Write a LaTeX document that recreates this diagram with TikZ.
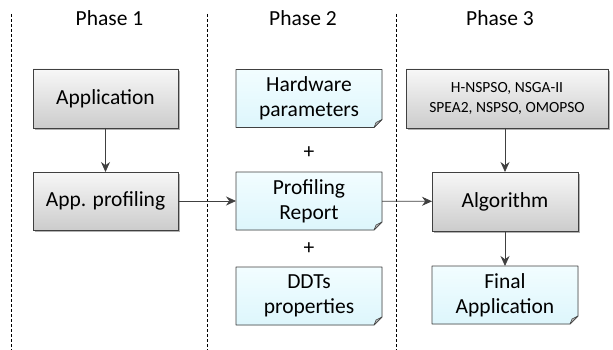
\documentclass[tikz,border=0pt]{standalone}
\usepackage{fontspec}
\setmainfont{Carlito}
\usetikzlibrary{arrows.meta,shadows,backgrounds}
\definecolor{bordc}{HTML}{404040}
\definecolor{arrc}{HTML}{404040}
\definecolor{cyantop}{HTML}{F2FDFF}
\definecolor{cyanbot}{HTML}{DDF6FC}
\tikzset{
  txt/.style={font=\fontsize{21.5}{25}\selectfont, align=center},
  graybox/.style={txt, draw=bordc, line width=0.8pt, top color=gray!6, bottom color=gray!40,
    drop shadow={shadow xshift=2pt, shadow yshift=-2pt, opacity=0.3, fill=black},
    inner sep=0pt, outer sep=0pt},
  notebox/.style={txt, inner sep=0pt, outer sep=0pt, minimum width=146pt, minimum height=58pt},
  conn/.style={draw=arrc, line width=0.8pt, -{Stealth[length=10pt,width=9pt]}},
  divider/.style={draw=black, line width=0.6pt, dash pattern=on 3pt off 2pt},
  phase/.style={font=\fontsize{21.5}{25}\selectfont}
}
\newcommand\notepath[1]{(#1.north west) -- (#1.north east) -- ([yshift=8pt]#1.south east) -- ([xshift=-8pt]#1.south east) -- (#1.south west) -- cycle}
\newcommand\notedraw[1]{%
  \fill[black,opacity=0.3,xshift=2pt,yshift=-2pt] \notepath{#1};
  \shade[top color=cyantop,bottom color=cyanbot] \notepath{#1};
  \draw[bordc,line width=0.8pt,line join=round] \notepath{#1};
  \filldraw[fill=gray!55,draw=bordc,line width=0.5pt,line join=round] ([xshift=-8pt]#1.south east) -- ([yshift=8pt]#1.south east) -- ([xshift=-6pt,yshift=5pt]#1.south east) -- cycle;
}
\begin{document}
\begin{tikzpicture}[x=1pt,y=-1pt]
\useasboundingbox (0,0) rectangle (613,350);
% dividers
\coordinate (d1t) at (11.5,14); \coordinate (d1b) at (11.5,350);
\coordinate (d2t) at (207,14); \coordinate (d2b) at (207,350);
\coordinate (d3t) at (396,14); \coordinate (d3b) at (396,350);
\draw[divider] (d1t) -- (d1b);
\draw[divider] (d2t) -- (d2b);
\draw[divider] (d3t) -- (d3b);
% phase titles
\node[phase] (p1) at (109.5,18) {Phase 1};
\node[phase] (p2) at (303,18) {Phase 2};
\node[phase] (p3) at (500,18) {Phase 3};
% phase 1
\node[graybox, minimum width=145pt, minimum height=59pt] (app) at (105.5,98.5) {Application};
\node[graybox, minimum width=145pt, minimum height=58pt] (prof) at (105.5,201) {App. profiling};
% phase 2
\node[notebox] (hw) at (309,98.5) {Hardware\\parameters};
\node[notebox] (rep) at (309,201) {Profiling\\Report};
\node[notebox] (ddt) at (309,296) {DDTs\\properties};
\node[txt] (plus1) at (309,153) {+};
\node[txt] (plus2) at (309,249) {+};
% phase 3
\node[graybox, minimum width=202pt, minimum height=59pt, font=\fontsize{15.5}{20}\selectfont] (alglist) at (507,98.5) {H-NSPSO, NSGA-II\\SPEA2, NSPSO, OMOPSO};
\node[graybox, minimum width=146pt, minimum height=59pt] (alg) at (505,201.5) {Algorithm};
\node[notebox] (final) at (505,295) {Final\\Application};
\begin{scope}[on background layer]
\notedraw{hw}
\notedraw{rep}
\notedraw{ddt}
\notedraw{final}
\end{scope}
% connectors
\draw[conn] (app) -- (prof);
\draw[conn] (prof) -- (rep);
\draw[conn] (rep) -- (alg);
\draw[conn] (alg.north |- alglist.south) -- (alg.north);
\draw[conn] (alg) -- (final);
\end{tikzpicture}
\end{document}
